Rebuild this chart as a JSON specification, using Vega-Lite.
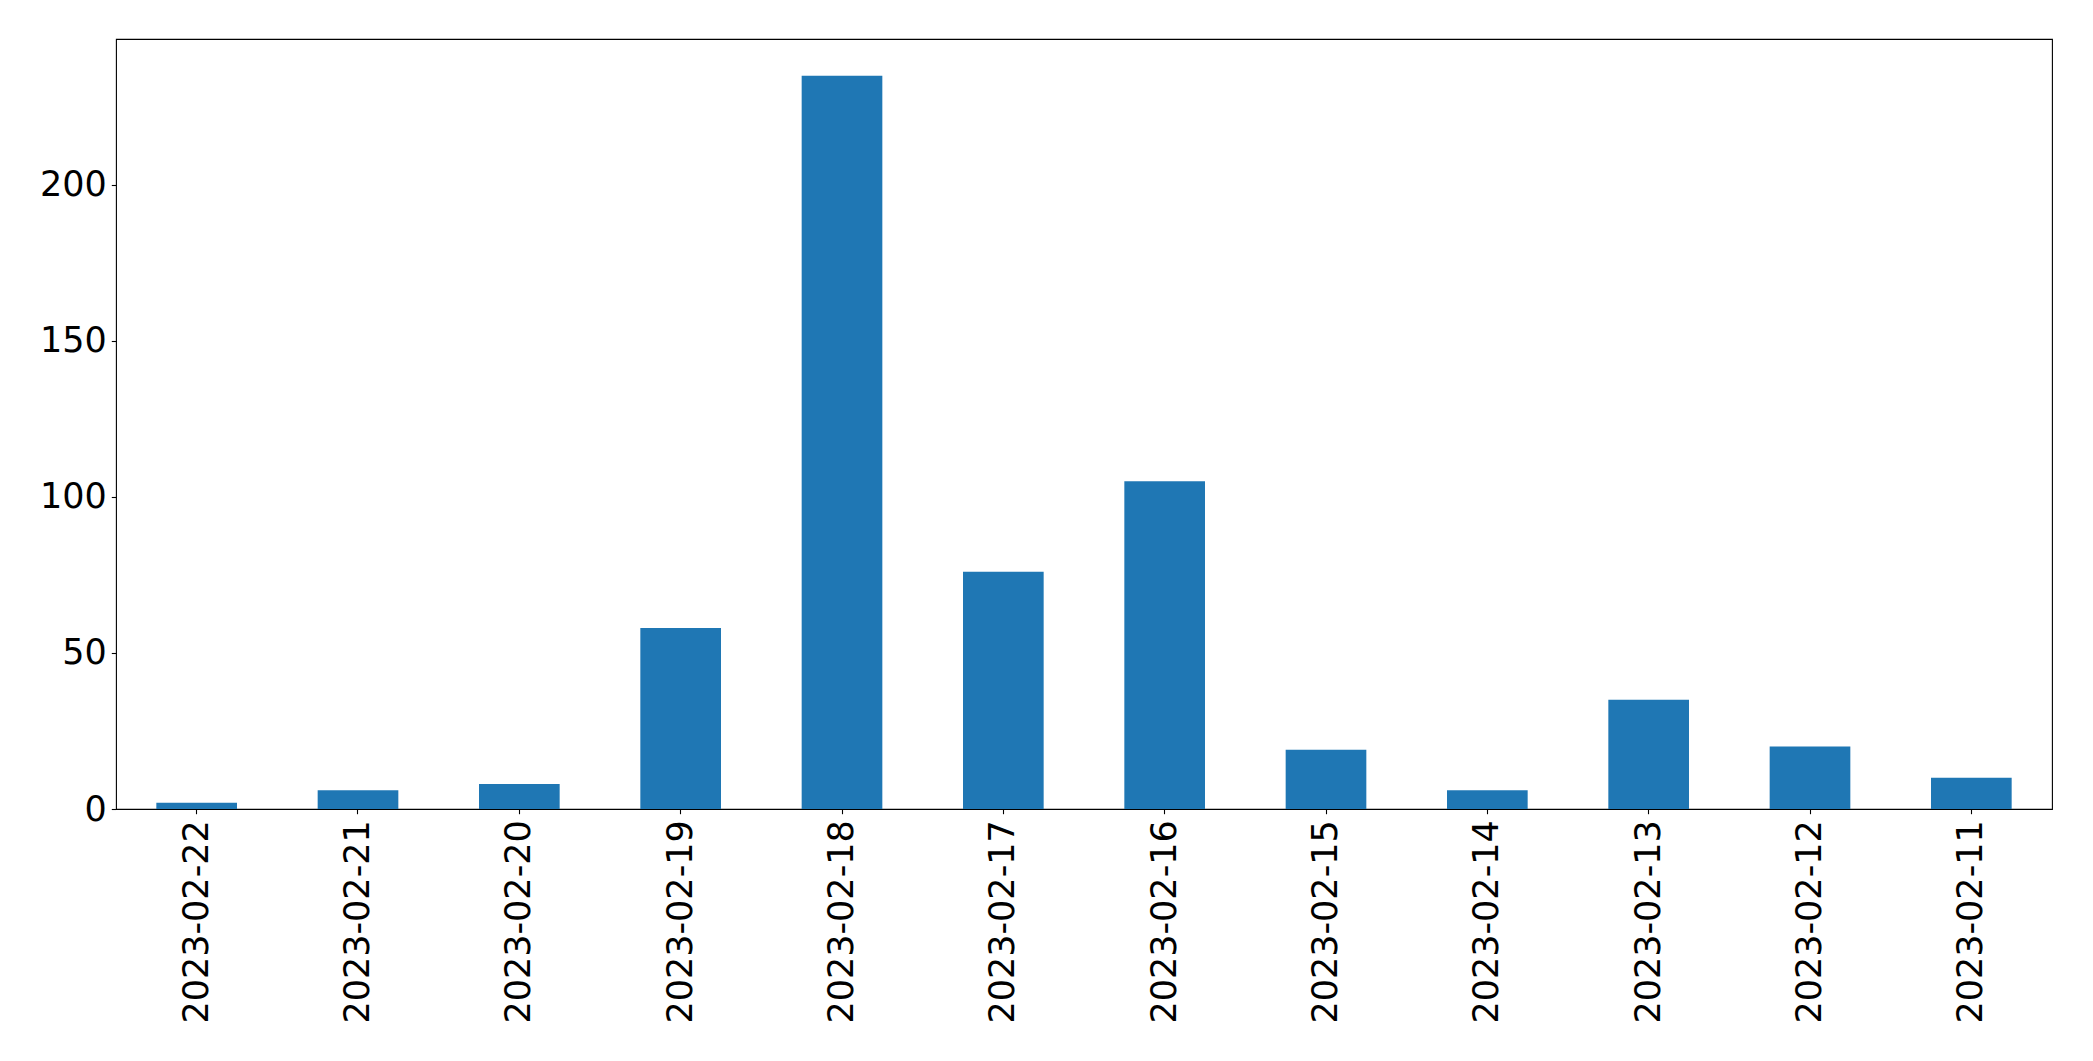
{
  "$schema": "https://vega.github.io/schema/vega-lite/v6.json",
  "width": 1936,
  "height": 770,
  "autosize": {"type": "none"},
  "padding": {"left": 116, "top": 39, "right": 41, "bottom": 252},
  "background": "white",
  "config": {
    "view": {"stroke": "black", "strokeWidth": 1.1},
    "axis": {
      "grid": false,
      "domain": false,
      "tickColor": "black",
      "tickSize": 4.7,
      "tickWidth": 1.1,
      "labelFont": "DejaVu Sans",
      "labelFontSize": 35,
      "labelColor": "black",
      "labelLimit": 1000,
      "title": null
    }
  },
  "data": {
    "values": [
      {"date": "2023-02-22", "count": 2},
      {"date": "2023-02-21", "count": 6},
      {"date": "2023-02-20", "count": 8},
      {"date": "2023-02-19", "count": 58},
      {"date": "2023-02-18", "count": 235},
      {"date": "2023-02-17", "count": 76},
      {"date": "2023-02-16", "count": 105},
      {"date": "2023-02-15", "count": 19},
      {"date": "2023-02-14", "count": 6},
      {"date": "2023-02-13", "count": 35},
      {"date": "2023-02-12", "count": 20},
      {"date": "2023-02-11", "count": 10}
    ]
  },
  "mark": {"type": "bar", "color": "#1f77b4"},
  "encoding": {
    "x": {
      "field": "date",
      "type": "nominal",
      "sort": null,
      "scale": {"paddingInner": 0.5, "paddingOuter": 0.25},
      "axis": {"labelAngle": 270, "labelPadding": 6, "labelAlign": "right", "labelBaseline": "middle"}
    },
    "y": {
      "field": "count",
      "type": "quantitative",
      "scale": {"domain": [0, 246.75], "nice": false, "zero": true},
      "axis": {"values": [0, 50, 100, 150, 200], "labelPadding": 5}
    }
  }
}
